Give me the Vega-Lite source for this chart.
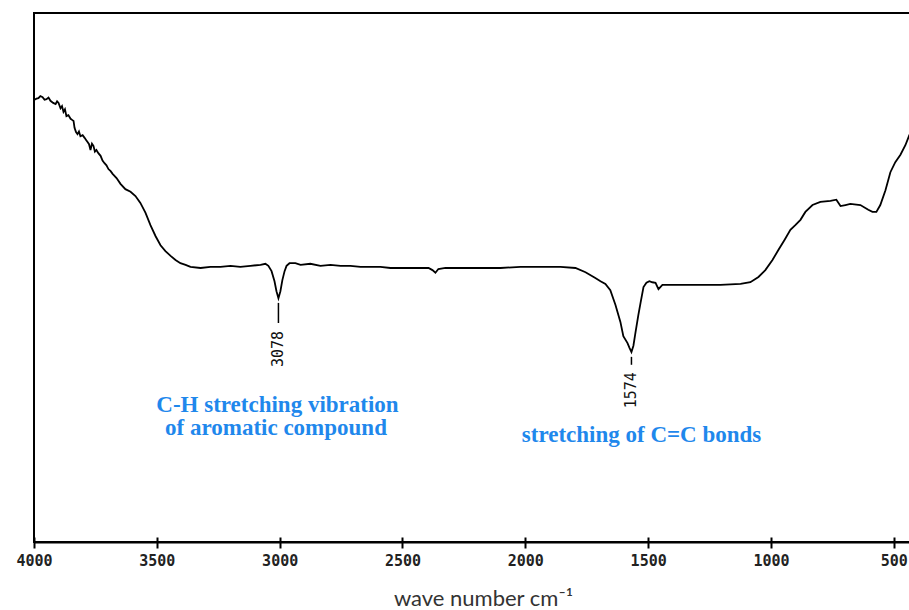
{
  "$schema": "https://vega.github.io/schema/vega-lite/v6.json",
  "autosize": {"type": "none"},
  "padding": {"left": 34, "top": 13, "right": 0, "bottom": 68},
  "width": 878,
  "height": 529,
  "background": "white",
  "config": {"view": {"stroke": "black", "strokeWidth": 2}},
  "datasets": {
    "spectrum": [
      {"wn": 3998, "t": 83.6}, {"wn": 3990, "t": 83.8}, {"wn": 3982, "t": 83.9}, {"wn": 3974, "t": 84.3}, {"wn": 3965, "t": 84.1}, {"wn": 3957, "t": 83.6}, {"wn": 3949, "t": 83.7},
      {"wn": 3941, "t": 84.0}, {"wn": 3933, "t": 83.4}, {"wn": 3922, "t": 83.0}, {"wn": 3912, "t": 82.8}, {"wn": 3906, "t": 83.3}, {"wn": 3900, "t": 83.0}, {"wn": 3892, "t": 82.0},
      {"wn": 3886, "t": 82.4}, {"wn": 3880, "t": 81.3}, {"wn": 3874, "t": 81.8}, {"wn": 3868, "t": 80.5}, {"wn": 3860, "t": 80.7}, {"wn": 3851, "t": 80.0}, {"wn": 3845, "t": 79.8}, {"wn": 3839, "t": 79.6},
      {"wn": 3835, "t": 78.3}, {"wn": 3829, "t": 77.5}, {"wn": 3823, "t": 77.1}, {"wn": 3817, "t": 77.6}, {"wn": 3811, "t": 76.7}, {"wn": 3802, "t": 76.9}, {"wn": 3794, "t": 76.4},
      {"wn": 3788, "t": 76.0}, {"wn": 3782, "t": 75.6}, {"wn": 3776, "t": 75.2}, {"wn": 3770, "t": 74.1}, {"wn": 3764, "t": 75.3}, {"wn": 3758, "t": 74.9}, {"wn": 3752, "t": 73.8}, {"wn": 3746, "t": 74.1},
      {"wn": 3738, "t": 73.5}, {"wn": 3729, "t": 73.0}, {"wn": 3721, "t": 72.1}, {"wn": 3713, "t": 71.6}, {"wn": 3705, "t": 71.2}, {"wn": 3697, "t": 70.5}, {"wn": 3688, "t": 70.1}, {"wn": 3680, "t": 69.6},
      {"wn": 3664, "t": 68.8}, {"wn": 3648, "t": 67.7}, {"wn": 3628, "t": 66.7}, {"wn": 3607, "t": 66.2},
      {"wn": 3587, "t": 65.4}, {"wn": 3567, "t": 64.1}, {"wn": 3546, "t": 62.2}, {"wn": 3526, "t": 59.9},
      {"wn": 3505, "t": 57.8}, {"wn": 3485, "t": 56.1}, {"wn": 3465, "t": 55.0}, {"wn": 3444, "t": 54.1},
      {"wn": 3424, "t": 53.3}, {"wn": 3404, "t": 52.7}, {"wn": 3383, "t": 52.4}, {"wn": 3363, "t": 52.0},
      {"wn": 3322, "t": 51.8}, {"wn": 3282, "t": 52.0}, {"wn": 3241, "t": 52.0}, {"wn": 3200, "t": 52.2},
      {"wn": 3160, "t": 52.0}, {"wn": 3119, "t": 52.2}, {"wn": 3078, "t": 52.4}, {"wn": 3058, "t": 52.6},
      {"wn": 3046, "t": 52.2}, {"wn": 3033, "t": 51.2}, {"wn": 3021, "t": 49.3}, {"wn": 3013, "t": 47.4},
      {"wn": 3005, "t": 46.1}, {"wn": 2997, "t": 47.4}, {"wn": 2989, "t": 49.5}, {"wn": 2980, "t": 51.2},
      {"wn": 2972, "t": 52.2}, {"wn": 2960, "t": 52.7}, {"wn": 2936, "t": 52.7}, {"wn": 2915, "t": 52.4},
      {"wn": 2875, "t": 52.6}, {"wn": 2834, "t": 52.2}, {"wn": 2793, "t": 52.4}, {"wn": 2752, "t": 52.2},
      {"wn": 2712, "t": 52.2}, {"wn": 2671, "t": 52.0}, {"wn": 2630, "t": 52.0}, {"wn": 2590, "t": 52.0},
      {"wn": 2549, "t": 51.8}, {"wn": 2508, "t": 51.8}, {"wn": 2468, "t": 51.8}, {"wn": 2427, "t": 51.8},
      {"wn": 2394, "t": 51.8}, {"wn": 2378, "t": 51.4}, {"wn": 2366, "t": 50.9}, {"wn": 2354, "t": 51.6},
      {"wn": 2325, "t": 51.8}, {"wn": 2264, "t": 51.8}, {"wn": 2183, "t": 51.8}, {"wn": 2101, "t": 51.8},
      {"wn": 2020, "t": 52.0}, {"wn": 1938, "t": 52.0}, {"wn": 1857, "t": 52.0}, {"wn": 1796, "t": 51.8},
      {"wn": 1755, "t": 51.0}, {"wn": 1715, "t": 49.9}, {"wn": 1694, "t": 49.3}, {"wn": 1674, "t": 48.8},
      {"wn": 1654, "t": 47.6}, {"wn": 1633, "t": 44.8}, {"wn": 1613, "t": 41.6}, {"wn": 1601, "t": 38.9},
      {"wn": 1584, "t": 37.6}, {"wn": 1576, "t": 36.7}, {"wn": 1568, "t": 35.9}, {"wn": 1560, "t": 37.1},
      {"wn": 1552, "t": 39.5}, {"wn": 1540, "t": 42.9}, {"wn": 1531, "t": 45.2}, {"wn": 1519, "t": 48.2},
      {"wn": 1507, "t": 49.0}, {"wn": 1495, "t": 49.3}, {"wn": 1483, "t": 49.1}, {"wn": 1470, "t": 49.0},
      {"wn": 1458, "t": 47.8}, {"wn": 1442, "t": 48.6}, {"wn": 1409, "t": 48.6}, {"wn": 1369, "t": 48.6},
      {"wn": 1287, "t": 48.6}, {"wn": 1206, "t": 48.6}, {"wn": 1124, "t": 48.8}, {"wn": 1084, "t": 49.1},
      {"wn": 1051, "t": 50.1}, {"wn": 1023, "t": 51.4}, {"wn": 994, "t": 53.3}, {"wn": 970, "t": 55.2},
      {"wn": 945, "t": 57.1}, {"wn": 921, "t": 59.0}, {"wn": 901, "t": 59.9}, {"wn": 880, "t": 60.9},
      {"wn": 860, "t": 62.4}, {"wn": 831, "t": 63.7}, {"wn": 799, "t": 64.3}, {"wn": 758, "t": 64.5},
      {"wn": 734, "t": 64.7}, {"wn": 717, "t": 63.5}, {"wn": 697, "t": 63.7}, {"wn": 677, "t": 63.9},
      {"wn": 636, "t": 63.7}, {"wn": 604, "t": 62.8}, {"wn": 587, "t": 62.4}, {"wn": 571, "t": 62.4},
      {"wn": 555, "t": 63.7}, {"wn": 534, "t": 66.5}, {"wn": 514, "t": 69.9}, {"wn": 494, "t": 71.8},
      {"wn": 473, "t": 73.2}, {"wn": 453, "t": 75.0}, {"wn": 437, "t": 76.9}, {"wn": 429, "t": 77.5}
    ],
    "peaks": [
      {"wn": 3005, "y1": 45.2, "y2": 41.4, "ly": 36.5, "label": "3078"},
      {"wn": 1568, "y1": 35.0, "y2": 33.5, "ly": 28.7, "label": "1574"}
    ],
    "notes": [
      {"wn": 3009, "t": 24.6, "text": "C-H stretching vibration"},
      {"wn": 3015, "t": 20.2, "text": "of aromatic compound"},
      {"wn": 1527, "t": 18.9, "text": "stretching of C=C bonds"}
    ]
  },
  "resolve": {"axis": {"x": "independent"}},
  "layer": [
    {
      "data": {"name": "spectrum"},
      "mark": {"type": "line", "color": "black", "strokeWidth": 1.8, "interpolate": "linear"},
      "encoding": {
        "x": {
          "field": "wn", "type": "quantitative",
          "scale": {"domain": [4000, 426], "nice": false, "zero": false},
          "axis": {
            "orient": "bottom",
            "values": [4000, 3500, 3000, 2500, 2000, 1500, 1000, 500],
            "grid": false,
            "domainColor": "black", "domainWidth": 2,
            "tickColor": "black", "tickWidth": 2, "tickSize": 6,
            "labelFont": "DejaVu Sans Mono", "labelFontWeight": "bold", "labelFontSize": 15,
            "labelColor": "#222", "labelPadding": 5, "labelFlush": false,
            "labelExpr": "replace(datum.label, ',', '')",
            "title": "wave number cm⁻¹",
            "titleFont": "Lato", "titleFontSize": 22, "titleFontWeight": "normal", "titleColor": "#333",
            "titleBaseline": "alphabetic", "titleY": 63, "titleX": 449, "titleAnchor": null
          }
        },
        "y": {
          "field": "t", "type": "quantitative",
          "scale": {"domain": [0, 100], "nice": false, "zero": false},
          "axis": null
        }
      }
    },
    {
      "data": {"name": "peaks"},
      "mark": {"type": "rule", "color": "black", "strokeWidth": 1.5},
      "encoding": {
        "x": {
          "field": "wn", "type": "quantitative",
          "axis": {
            "orient": "bottom",
            "values": [4000, 3500, 3000, 2500, 2000, 1500, 1000, 500],
            "grid": false, "domain": false, "labels": false, "title": null,
            "tickColor": "black", "tickWidth": 2, "tickSize": -5
          }
        },
        "y": {"field": "y1", "type": "quantitative", "axis": null},
        "y2": {"field": "y2"}
      }
    },
    {
      "data": {"name": "peaks"},
      "mark": {"type": "text", "angle": 270, "font": "DejaVu Sans Mono", "fontSize": 15, "color": "#111", "align": "center", "baseline": "middle"},
      "encoding": {
        "x": {"field": "wn", "type": "quantitative", "axis": null},
        "y": {"field": "ly", "type": "quantitative", "axis": null},
        "text": {"field": "label"}
      }
    },
    {
      "data": {"name": "notes"},
      "mark": {"type": "text", "font": "Liberation Serif", "fontWeight": "bold", "fontSize": 23, "color": "#1f88ec", "align": "center", "baseline": "alphabetic"},
      "encoding": {
        "x": {"field": "wn", "type": "quantitative", "axis": null},
        "y": {"field": "t", "type": "quantitative", "axis": null},
        "text": {"field": "text"}
      }
    }
  ]
}
